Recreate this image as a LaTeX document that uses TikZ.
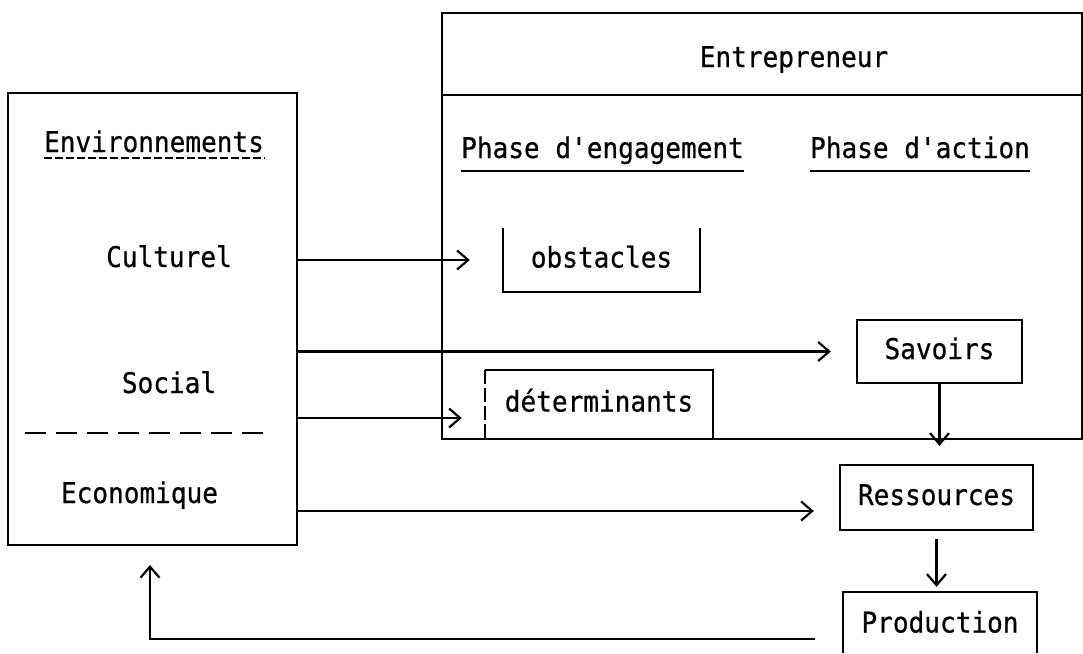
\documentclass[tikz,border=0pt]{standalone}
\usepackage{fontspec}
\setmonofont[FakeStretch=0.915,FakeBold=0.6]{DejaVu Sans Mono}
\usetikzlibrary{arrows.meta}
\begin{document}
\begin{tikzpicture}[x=1pt,y=-1pt,
  every node/.style={font=\ttfamily\fontsize{28.5}{30}\selectfont, inner sep=0pt},
  lbl/.style={anchor=base},
  tbox/.style={draw, rectangle, line width=2.3pt},
  slot/.style={rectangle, text height=20pt, text depth=5pt},
  ln/.style={line width=2.3pt},
  conn/.style={line width=2.2pt, -{Straight Barb[length=11pt,width=19pt]}},
]
\useasboundingbox (0,0) rectangle (1083,653);
\coordinate (pagebot) at (0,653);

% main frames
\node[tbox, minimum width=289pt, minimum height=452pt] (env) at (152.5,319) {};
\node[tbox, minimum width=640pt, minimum height=426pt] (ent) at (762,226) {};
\draw[ln] (ent.west |- 0,95) -- (ent.east |- 0,95);

% environment column
\node[lbl] (envt) at (154,152) {Environnements};
\draw[line width=1.8pt, dash pattern=on 8pt off 3pt]
  ([yshift=-6pt]envt.base west) -- ([yshift=-6pt]envt.base east);
\node[lbl] (cult) at (169,267) {Culturel};
\node[lbl] (soc) at (169,393) {Social};
\node[lbl] (eco) at (139.5,503) {Economique};
\draw[ln, dash pattern=on 21pt off 10pt] (25,433) -- (268,433);

% entrepreneur header and phases
\node[lbl] (entt) at (794,67) {Entrepreneur};
\node[lbl] (pde) at (602.5,158) {Phase d'engagement};
\node[lbl] (pda) at (920,158) {Phase d'action};
\draw[line width=1.8pt] ([yshift=-13pt]pde.base west) -- ([yshift=-13pt]pde.base east);
\draw[line width=1.8pt] ([yshift=-13pt]pda.base west) -- ([yshift=-13pt]pda.base east);

% boxes
\node[slot, minimum width=197pt, minimum height=64pt] (obst) at (601.5,260) {obstacles};
\node[slot, minimum width=228pt, minimum height=68pt] (det) at (599,404) {déterminants};
\node[slot, draw, line width=2.3pt, minimum width=165pt, minimum height=63pt] (sav) at (939.5,351.5) {Savoirs};
\node[slot, draw, line width=2.3pt, minimum width=193pt, minimum height=65pt] (ress) at (936.5,497.5) {Ressources};
\node[slot, minimum width=194pt, minimum height=66pt] (prod) at (940,625) {Production};

\draw[ln] (obst.north west) -- (obst.south west) -- (obst.south east) -- (obst.north east);
\draw[line width=1.6pt, dash pattern=on 14pt off 4pt] (det.south west) -- (det.north west);
\draw[ln] (det.north west) -- (det.north east) -- (det.south east);
\draw[ln] (prod.west |- pagebot) -- (prod.north west) -- (prod.north east) -- (prod.east |- pagebot);

% connectors
\coordinate (obstin) at ([xshift=-33pt]obst.west);
\coordinate (savin) at ([xshift=-25pt]sav.west);
\coordinate (detin) at ([xshift=-23pt,yshift=-14pt]det.west);
\coordinate (ressin) at ([xshift=-25pt,yshift=-13.5pt]ress.west);
\coordinate (resstop) at ([yshift=18pt]ress.north);
\coordinate (prodtop) at ([yshift=5pt]prod.north);
\coordinate (fbstart) at ([xshift=-28pt,yshift=-14pt]prod.west);
\coordinate (fbend) at (150,565);

\draw[conn] (obstin -| env.east) -- (obstin);
\draw[conn] (savin -| env.east) -- (savin);
\draw[conn] (detin -| env.east) -- (detin);
\draw[conn] (ressin -| env.east) -- (ressin);
\draw[conn] (sav.south) -- (sav.south |- resstop);
\draw[conn] ([yshift=-8pt]ress.south) -- (ress.south |- prodtop);
\draw[conn] (fbstart) -| (fbend);
\end{tikzpicture}
\end{document}
